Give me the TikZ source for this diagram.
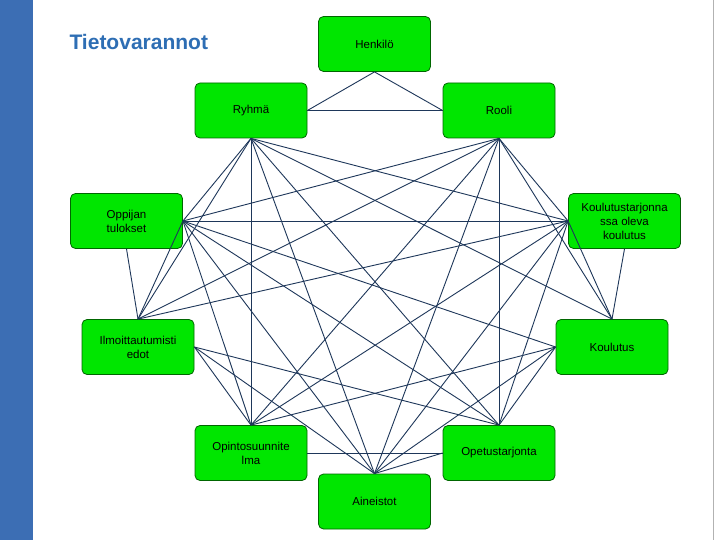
\documentclass[tikz,border=0pt]{standalone}
\usepackage{fontspec}
\setmainfont{Liberation Sans}
\definecolor{boxgreen}{RGB}{0,230,0}
\definecolor{lncol}{RGB}{30,55,90}
\definecolor{barblue}{RGB}{60,110,180}
\definecolor{titleblue}{RGB}{46,110,180}
\begin{document}
\begin{tikzpicture}[x=1pt,y=-1pt,
  box/.style={draw=green!40!black,line width=0.8pt,fill=boxgreen,rounded corners=5pt,minimum width=112pt,minimum height=55pt,inner sep=1pt,align=center,font=\fontsize{11.5}{14}\selectfont},
  ln/.style={draw=lncol,line width=0.9pt}]
\useasboundingbox (0,0) rectangle (720,540);
\fill[white] (0,0) rectangle (720,540);
\fill[barblue] (0,0) rectangle (33,540);
\draw[gray!60] (713,0) -- (713,540);
\node[anchor=west,text=titleblue,font=\fontsize{21}{24}\selectfont\bfseries] (title) at (66,42) {Tietovarannot};
\node[box] (H) at (374.5,44) {Henkilö};
\node[box] (Ry) at (251,110.5) {Ryhmä};
\node[box] (Ro) at (499,110.5) {Rooli};
\node[box] (Op) at (126.5,221) {Oppijan\\tulokset};
\node[box] (Kt) at (624.5,221) {Koulutustarjonna\\ssa oleva\\koulutus};
\node[box] (Il) at (138,347) {Ilmoittautumisti\\edot};
\node[box] (Ko) at (612,347) {Koulutus};
\node[box] (Os) at (251,453) {Opintosuunnite\\lma};
\node[box] (Ot) at (499,453) {Opetustarjonta};
\node[box] (Ai) at (374.5,501.5) {Aineistot};
\foreach \a/\b in {H.south/Ry.east,H.south/Ro.west,Ry.east/Ro.west,
 Ry.south/Op.east,Ry.south/Kt.west,Ry.south/Il.north,Ry.south/Ko.north,Ry.south/Os.north,Ry.south/Ot.north,Ry.south/Ai.north,
 Ro.south/Op.east,Ro.south/Kt.west,Ro.south/Il.north,Ro.south/Ko.north,Ro.south/Os.north,Ro.south/Ot.north,Ro.south/Ai.north,
 Op.east/Kt.west,Op.east/Il.north,Op.south/Il.north,Op.east/Ko.west,Op.east/Os.north,Op.east/Ot.north,Op.east/Ai.north,
 Kt.west/Ko.north,Kt.south/Ko.north,Kt.west/Il.north,Kt.west/Os.north,Kt.west/Ot.north,Kt.west/Ai.north,
 Il.east/Os.north,Il.east/Ot.north,Il.east/Ai.north,
 Ko.west/Os.north,Ko.west/Ot.north,Ko.west/Ai.north,
 Os.east/Ot.west,Ot.west/Ai.north}
  \draw[ln] (\a) -- (\b);
\end{tikzpicture}
\end{document}
